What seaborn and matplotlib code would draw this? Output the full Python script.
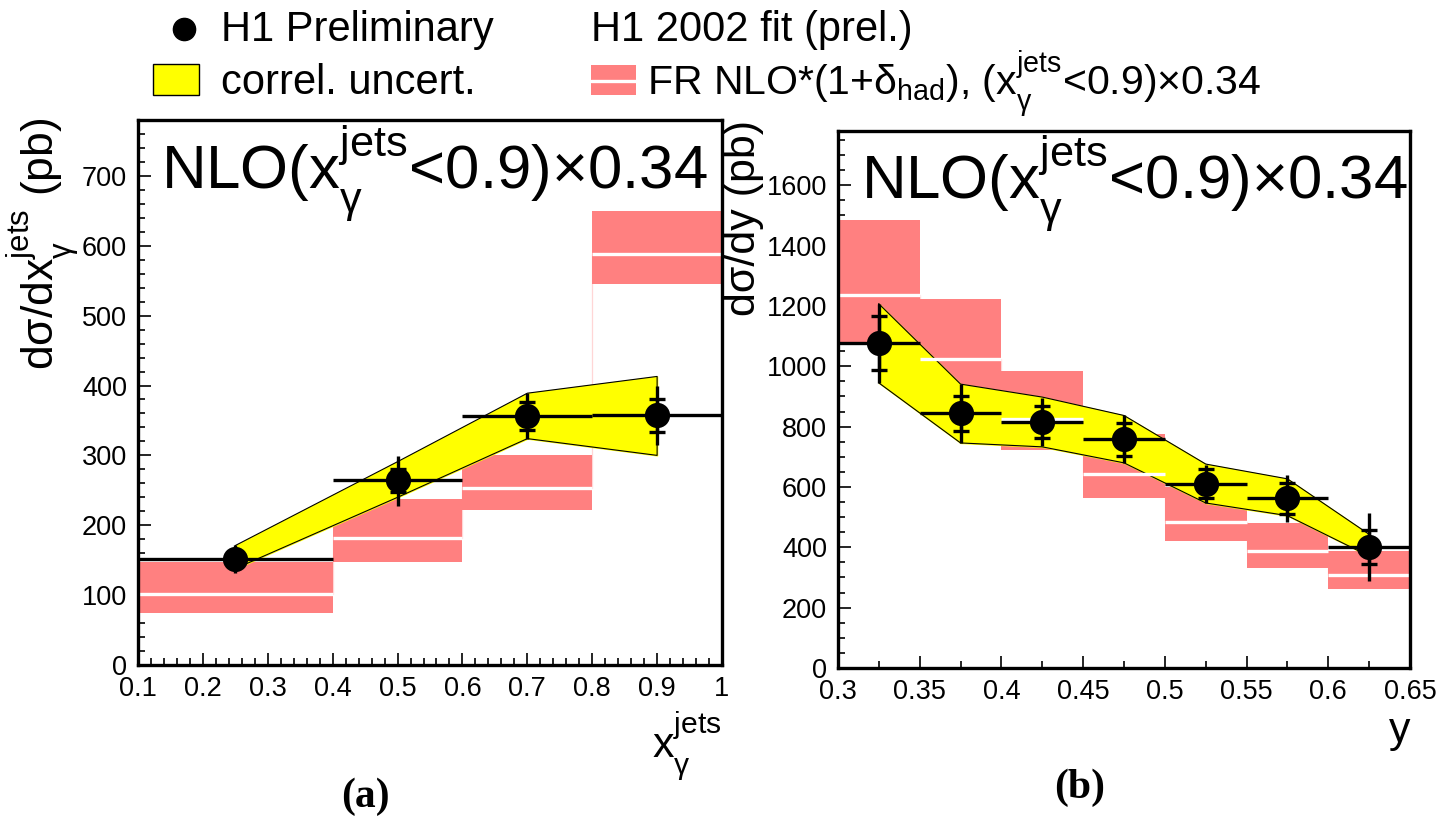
import numpy as np
import matplotlib
matplotlib.use("Agg")
import matplotlib.pyplot as plt
from matplotlib.patches import Rectangle
from matplotlib.lines import Line2D
from matplotlib.ticker import MultipleLocator, FixedLocator, FixedFormatter
import seaborn as sns

# ---------------- data: d sigma / d x_gamma^jets ----------------
xg_edges = [0.1, 0.4, 0.6, 0.8, 1.0]
xg_val = [152, 265, 357, 358]
xg_stat_lo = [143, 247, 337, 333]
xg_stat_hi = [161, 281, 376, 380]
xg_tot_lo = [132, 228, 324, 315]
xg_tot_hi = [172, 299, 390, 399]
xg_band_lo = [138, 240, 324, 300]
xg_band_hi = [171, 291, 389, 413]
xg_nlo = [101, 182, 254, 588]
xg_nlo_lo = [75, 148, 222, 545]
xg_nlo_hi = [148, 237, 301, 650]

# ---------------- data: d sigma / d y ----------------
y_edges = [0.30, 0.35, 0.40, 0.45, 0.50, 0.55, 0.60, 0.65]
y_val = [1078, 845, 815, 759, 611, 563, 401]
y_stat_lo = [988, 785, 761, 704, 562, 511, 345]
y_stat_hi = [1166, 903, 869, 813, 660, 614, 459]
y_tot_lo = [945, 746, 735, 680, 548, 483, 287]
y_tot_hi = [1208, 942, 895, 837, 674, 639, 514]
y_band_lo = [945, 746, 733, 680, 547, 505, 371]
y_band_hi = [1207, 941, 898, 837, 676, 627, 443]
y_nlo = [1238, 1025, 824, 642, 484, 387, 307]
y_nlo_lo = [1075, 900, 724, 562, 420, 332, 262]
y_nlo_hi = [1485, 1224, 986, 774, 600, 481, 389]

# tick labels
xg_ticks = [0.1, 0.2, 0.3, 0.4, 0.5, 0.6, 0.7, 0.8, 0.9, 1.0]
xg_ticklabels = ["0.1", "0.2", "0.3", "0.4", "0.5", "0.6", "0.7", "0.8", "0.9", "1"]
y_ticks = [0.30, 0.35, 0.40, 0.45, 0.50, 0.55, 0.60, 0.65]
y_ticklabels = ["0.3", "0.35", "0.4", "0.45", "0.5", "0.55", "0.6", "0.65"]

title_text = "NLO(x$_{\\gamma}^{\\mathrm{jets}}$<0.9)×0.34"

# ---------------- style ----------------
sns.set_theme(style="ticks")
plt.rcParams["font.family"] = ["Liberation Sans", "DejaVu Sans"]
plt.rcParams["mathtext.fontset"] = "custom"
plt.rcParams["mathtext.rm"] = "Liberation Sans"
plt.rcParams["mathtext.it"] = "Liberation Sans"
plt.rcParams["mathtext.sf"] = "Liberation Sans"
plt.rcParams["mathtext.bf"] = "Liberation Sans:bold"
for key in ("text.color", "axes.labelcolor", "xtick.color", "ytick.color",
            "axes.edgecolor"):
    plt.rcParams[key] = "black"

# raise superscripts / lower subscripts a little (ROOT-like script placement)
try:
    import matplotlib._mathtext as _mt
    _mt.FontConstantsBase.sup1 = 1.0
    _mt.FontConstantsBase.sub2 = 0.75
except Exception:
    pass

RED = "#ff8080"
YELLOW = "#ffff00"

W, H = 1438, 818
fig = plt.figure(figsize=(W / 100, H / 100), dpi=100)


def fx(px):
    return px / W


def fy(py):
    return 1 - py / H


ax1 = fig.add_axes([fx(138), fy(665), 584 / W, 545 / H])
ax2 = fig.add_axes([fx(838), fy(668), 572 / W, 537 / H])


def draw_panel(ax, edges, val, st_lo, st_hi, tt_lo, tt_hi, b_lo, b_hi,
               nlo, nlo_lo, nlo_hi):
    edges = np.asarray(edges)
    left = edges[:-1]
    width = np.diff(edges)
    centers = left + width / 2
    val = np.asarray(val)
    nlo = np.asarray(nlo)

    # faint outline of the step connectors of the NLO central line
    for i in range(1, len(nlo)):
        ax.plot([edges[i], edges[i]], [nlo[i - 1], nlo[i]],
                color="#ffd6d6", lw=0.9, zorder=0.5)

    # NLO uncertainty boxes
    ax.bar(left, np.asarray(nlo_hi) - np.asarray(nlo_lo), bottom=nlo_lo,
           width=width, align="edge", color=RED, lw=0, zorder=1)

    # correlated uncertainty band
    ax.fill_between(centers, b_lo, b_hi, color=YELLOW, zorder=2)
    poly_x = np.concatenate([centers, centers[::-1], centers[:1]])
    poly_y = np.concatenate([b_hi, np.asarray(b_lo)[::-1], np.asarray(b_hi)[:1]])
    ax.plot(poly_x, poly_y, color="black", lw=0.8, zorder=2.1)

    # NLO central values
    ax.hlines(nlo, left, edges[1:], color="white", lw=2.4, zorder=3)

    # data: total error, stat ticks, bin widths
    ax.errorbar(centers, val, yerr=[val - np.asarray(tt_lo), np.asarray(tt_hi) - val],
                xerr=width / 2, fmt="none", ecolor="black", elinewidth=2.4,
                capsize=0, zorder=4)
    ax.errorbar(centers, val, yerr=[val - np.asarray(st_lo), np.asarray(st_hi) - val],
                fmt="none", ecolor="black", elinewidth=2.4, capsize=6,
                capthick=2.4, zorder=4)
    sns.scatterplot(x=centers, y=val, ax=ax, color="black", s=330,
                    edgecolor="black", linewidth=0, zorder=5, legend=False)


draw_panel(ax1, xg_edges, xg_val, xg_stat_lo, xg_stat_hi, xg_tot_lo, xg_tot_hi,
           xg_band_lo, xg_band_hi, xg_nlo, xg_nlo_lo, xg_nlo_hi)
draw_panel(ax2, y_edges, y_val, y_stat_lo, y_stat_hi, y_tot_lo, y_tot_hi,
           y_band_lo, y_band_hi, y_nlo, y_nlo_lo, y_nlo_hi)

# axes ranges and ticks
ax1.set_xlim(0.1, 1.0)
ax1.set_ylim(0, 780)
ax1.xaxis.set_major_locator(FixedLocator(xg_ticks))
ax1.xaxis.set_major_formatter(FixedFormatter(xg_ticklabels))
ax1.xaxis.set_minor_locator(MultipleLocator(0.02))
ax1.yaxis.set_major_locator(MultipleLocator(100))
ax1.yaxis.set_minor_locator(MultipleLocator(20))

ax2.set_xlim(0.3, 0.65)
ax2.set_ylim(0, 1780)
ax2.xaxis.set_major_locator(FixedLocator(y_ticks))
ax2.xaxis.set_major_formatter(FixedFormatter(y_ticklabels))
ax2.xaxis.set_minor_locator(MultipleLocator(0.025))
ax2.yaxis.set_major_locator(MultipleLocator(200))
ax2.yaxis.set_minor_locator(MultipleLocator(50))

for ax in (ax1, ax2):
    ax.set_facecolor("white")
    for sp in ax.spines.values():
        sp.set_visible(True)
        sp.set_linewidth(2.4)
        sp.set_color("black")
        sp.set_zorder(10)
    ax.tick_params(which="both", direction="in", top=False, right=False,
                   colors="black", labelcolor="black", labelsize=19.5,
                   width=1.2, pad=8)
    ax.tick_params(which="major", length=9)
    ax.tick_params(which="minor", length=5)
    ax.set_xlabel("")
    ax.set_ylabel("")
    ax.text(0.040, 0.873, title_text, transform=ax.transAxes, fontsize=44.5,
            ha="left", va="baseline", zorder=8, color="black")

# axis titles
fig.text(fx(722), fy(757), "x$_{\\gamma}^{\\mathrm{jets}}$", fontsize=31,
         ha="right", va="baseline")
fig.text(fx(1410), fy(742), "y", fontsize=31, ha="right", va="baseline")
fig.text(fx(82), fy(118), "dσ/dx$_{\\gamma}^{\\mathrm{jets}}$ (pb)", fontsize=32,
         rotation=90, ha="right", va="top")
fig.text(fx(744), fy(120), "dσ/dy (pb)", fontsize=31, rotation=90,
         ha="center", va="top")

# panel captions
fig.text(fx(365), fy(797), "(a)", fontsize=30, fontweight="bold",
         family="Liberation Serif", ha="center", va="center")
fig.text(fx(1080), fy(788), "(b)", fontsize=30, fontweight="bold",
         family="Liberation Serif", ha="center", va="center")

# legend
fig.add_artist(Line2D([fx(184)], [fy(29)], marker="o", markersize=16,
                      color="black", transform=fig.transFigure))
fig.text(fx(221), fy(41), "H1 Preliminary", fontsize=30, va="baseline")
fig.text(fx(591), fy(41), "H1 2002 fit (prel.)", fontsize=30, va="baseline")
fig.add_artist(Rectangle((fx(153), fy(95)), 46 / W, 31 / H, facecolor=YELLOW,
                         edgecolor="black", lw=1.0, transform=fig.transFigure))
fig.text(fx(221), fy(94), "correl. uncert.", fontsize=30, va="baseline")
fig.add_artist(Rectangle((fx(591), fy(95)), 45 / W, 30 / H, facecolor=RED,
                         edgecolor="none", transform=fig.transFigure))
fig.add_artist(Line2D([fx(591), fx(636)], [fy(80.5), fy(80.5)], color="white",
                      lw=2.4, transform=fig.transFigure))
fig.text(fx(647), fy(95),
         "FR NLO*(1+$\\delta_{\\mathrm{had}}$), (x$_{\\gamma}^{\\mathrm{jets}}$<0.9)×0.34",
         fontsize=29.5, va="baseline")

fig.savefig("out.png", dpi=100, facecolor="white")
